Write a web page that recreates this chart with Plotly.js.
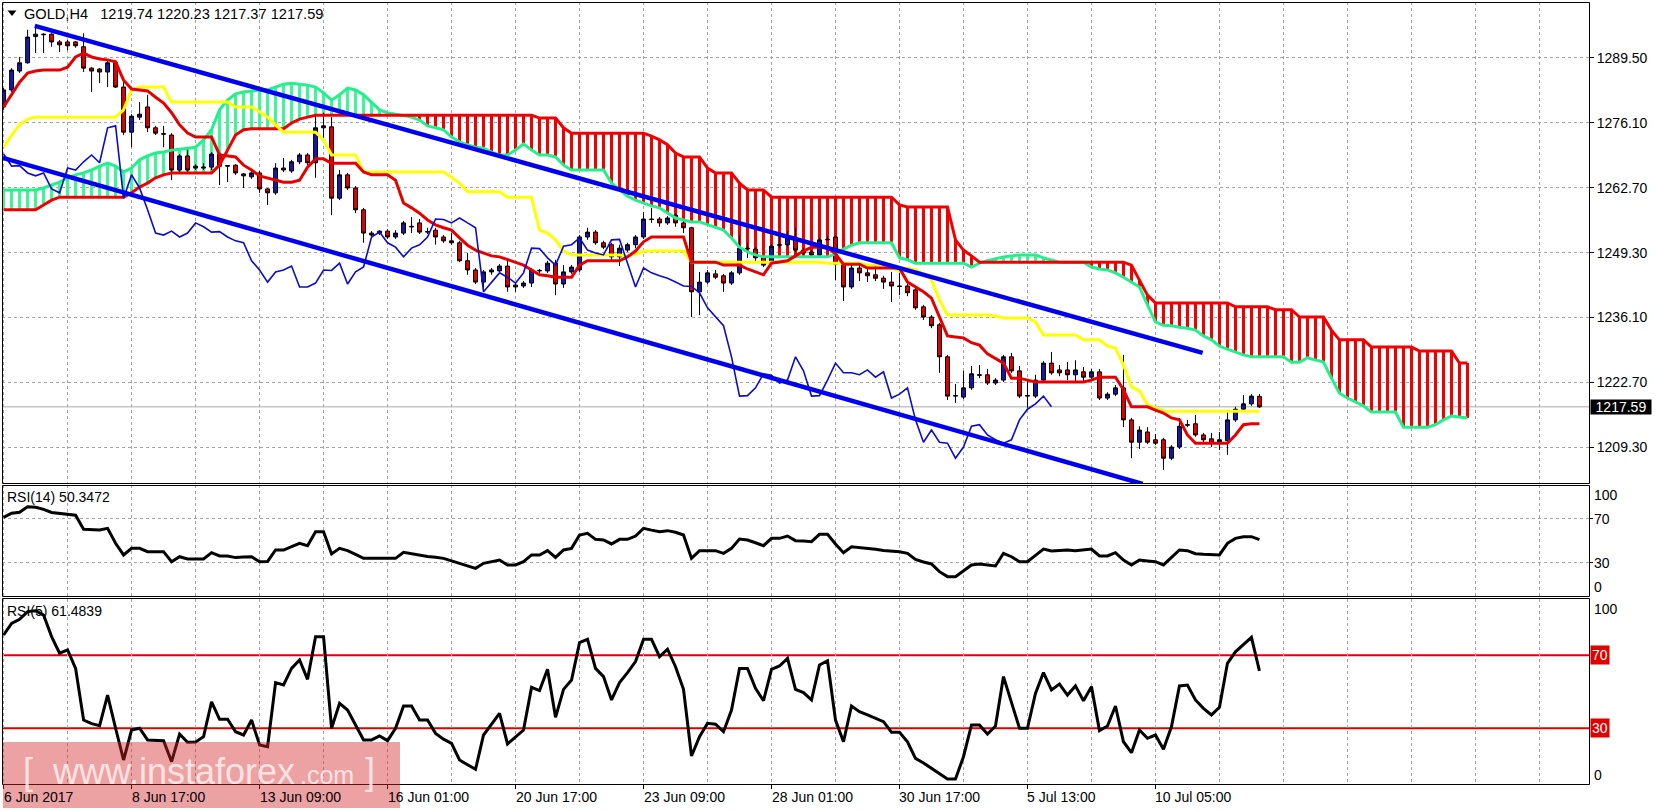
<!DOCTYPE html>
<html><head><meta charset="utf-8">
<script src="https://cdn.plot.ly/plotly-3.0.1.min.js"></script>
<style>html,body{margin:0;padding:0;background:#fff;}#chart{width:1657px;height:811px;}</style>
</head><body><div id="chart"></div>
<script>
// ---------------- DATA ----------------
const symbol = "GOLD,H4";
const open = [1279.4,1282.9,1286.8,1288.5,1293.9,1294.4,1294.4,1292.8,1292.8,1292.8,
1291.8,1287.4,1287.2,1286.6,1288.5,1283.5,1274.2,1277.3,1279.4,1275.1,
1273.9,1273.6,1266.4,1269.3,1267.2,1266.8,1267.0,1269.7,1267.2,1267.4,
1265.6,1265.0,1265.8,1262.5,1261.7,1266.8,1266.2,1268.1,1269.5,1267.9,
1275.1,1275.3,1260.6,1265.4,1262.7,1258.2,1253.4,1253.4,1253.8,1252.6,
1253.4,1254.8,1255.5,1253.6,1254.0,1252.6,1251.8,1251.4,1247.7,1245.8,
1243.3,1245.4,1245.6,1246.6,1242.7,1242.5,1243.1,1245.6,1245.6,1247.2,
1242.9,1245.4,1245.8,1252.6,1253.6,1251.4,1251.0,1248.5,1249.9,1251.0,
1252.6,1256.3,1256.3,1255.5,1257.1,1255.5,1254.5,1241.3,1243.3,1245.0,
1244.6,1243.1,1245.2,1250.3,1250.1,1248.3,1247.2,1250.9,1251.0,1252.4,
1249.9,1249.5,1248.9,1252.0,1252.6,1247.0,1242.3,1246.2,1245.2,1244.8,
1244.1,1243.3,1242.5,1242.5,1241.7,1238.2,1236.1,1234.5,1227.9,1219.8,
1219.6,1221.5,1224.2,1224.2,1222.5,1223.1,1227.9,1225.0,1219.8,1219.8,
1223.1,1226.6,1225.2,1225.2,1224.2,1224.8,1223.7,1224.8,1219.4,1220.2,
1221.5,1214.9,1210.3,1212.4,1210.8,1210.8,1207.0,1209.3,1213.8,1214.1,
1211.8,1211.0,1210.1,1210.6,1214.9,1217.1,1218.2,1219.74];
const high = [1283.3,1287.4,1289.7,1295.3,1295.9,1294.6,1294.6,1293.2,1293.2,1293.0,
1294.6,1287.6,1287.4,1288.9,1288.9,1285.6,1277.9,1280.4,1281.9,1275.5,
1275.5,1274.0,1269.7,1270.9,1267.6,1267.8,1270.1,1270.1,1267.4,1267.6,
1265.8,1266.2,1266.2,1262.7,1267.8,1268.9,1268.5,1269.9,1269.9,1277.7,
1278.2,1277.3,1266.4,1265.8,1263.1,1258.6,1253.8,1254.0,1254.2,1254.0,
1255.9,1256.7,1256.3,1254.5,1254.5,1253.0,1253.4,1251.8,1249.3,1246.2,
1245.8,1246.2,1247.0,1247.9,1243.3,1243.5,1246.2,1246.0,1247.7,1247.9,
1246.8,1246.8,1253.0,1254.5,1254.0,1251.8,1251.4,1251.0,1251.4,1253.0,
1257.7,1258.6,1256.7,1256.9,1257.5,1255.9,1254.7,1245.4,1245.8,1245.8,
1245.0,1245.6,1253.0,1251.4,1250.5,1248.7,1251.2,1253.4,1253.8,1254.5,
1250.3,1249.9,1252.4,1252.8,1253.0,1247.4,1247.0,1247.0,1246.2,1247.0,
1244.6,1245.4,1245.2,1242.9,1242.1,1238.6,1236.5,1234.9,1228.3,1222.3,
1225.0,1226.0,1226.2,1225.4,1223.5,1228.3,1228.7,1226.0,1223.1,1224.2,
1227.0,1228.9,1226.2,1226.8,1227.2,1225.8,1225.4,1225.4,1220.6,1222.1,
1228.3,1215.3,1213.6,1213.4,1212.0,1211.2,1209.7,1215.3,1214.9,1215.9,
1212.2,1212.2,1212.4,1216.9,1217.6,1220.0,1220.2,1220.23];
const low = [1278.8,1282.5,1286.4,1288.3,1290.5,1290.5,1291.8,1290.7,1291.1,1291.6,
1286.6,1282.5,1284.3,1283.5,1283.3,1273.6,1271.1,1276.7,1274.2,1273.6,
1271.1,1264.3,1265.8,1266.0,1266.4,1266.4,1266.4,1263.3,1263.9,1265.4,
1262.7,1264.6,1261.7,1259.2,1261.3,1266.0,1265.8,1267.6,1267.4,1264.8,
1273.0,1257.1,1260.2,1262.3,1257.5,1251.4,1252.6,1253.0,1252.2,1252.2,
1253.0,1253.4,1253.2,1253.2,1251.0,1251.4,1251.0,1247.4,1244.8,1242.9,
1241.3,1244.8,1245.2,1241.3,1241.3,1242.1,1242.3,1245.2,1245.2,1240.6,
1242.1,1245.0,1245.4,1252.0,1251.0,1250.1,1247.9,1246.6,1249.5,1250.3,
1252.2,1255.5,1254.7,1255.1,1254.7,1253.4,1236.1,1236.5,1242.9,1243.9,
1241.3,1242.7,1244.8,1248.3,1247.4,1246.4,1246.8,1250.3,1250.5,1249.5,
1248.9,1248.3,1248.5,1252.0,1243.7,1239.4,1241.9,1243.5,1243.3,1243.5,
1241.9,1239.2,1240.6,1240.4,1237.6,1235.5,1233.8,1224.6,1219.0,1218.4,
1219.2,1221.1,1223.5,1222.1,1222.1,1222.7,1224.6,1219.4,1217.4,1219.4,
1222.7,1224.2,1223.9,1223.1,1222.7,1222.9,1223.3,1219.0,1219.0,1219.8,
1213.4,1207.0,1208.9,1209.9,1209.7,1204.6,1206.6,1208.9,1213.4,1211.4,
1210.3,1209.3,1208.7,1207.7,1214.5,1216.5,1217.8,1217.37];
const close = [1282.9,1287.0,1288.5,1293.8,1294.4,1294.3,1292.8,1292.2,1292.0,1292.0,
1287.4,1286.8,1286.6,1288.5,1283.5,1274.2,1277.5,1277.9,1275.1,1274.0,
1273.8,1266.4,1269.3,1266.4,1266.8,1267.0,1269.7,1267.2,1267.3,1265.8,
1265.2,1265.8,1262.5,1261.7,1266.8,1266.4,1268.1,1269.5,1267.9,1275.1,
1275.5,1260.6,1265.4,1262.7,1258.2,1253.4,1253.0,1253.8,1252.6,1253.4,
1255.5,1254.7,1253.6,1253.7,1252.6,1251.8,1251.4,1247.7,1245.8,1243.3,
1245.4,1245.8,1246.6,1242.3,1242.3,1243.1,1245.8,1245.7,1247.2,1242.9,
1245.4,1246.4,1252.6,1253.6,1251.4,1250.5,1248.5,1250.3,1251.0,1252.6,
1256.3,1256.2,1255.5,1256.5,1255.5,1254.5,1241.3,1243.3,1245.2,1244.3,
1243.1,1245.2,1250.3,1250.2,1248.3,1246.8,1250.7,1251.0,1252.4,1249.9,
1249.3,1248.9,1252.0,1252.1,1247.0,1242.3,1246.2,1245.2,1244.6,1244.1,
1243.3,1242.5,1242.4,1241.1,1238.0,1236.1,1234.3,1227.9,1219.8,1219.9,
1221.5,1224.4,1224.1,1222.5,1223.1,1227.9,1225.0,1219.8,1219.9,1223.1,
1226.6,1224.6,1224.6,1224.2,1225.2,1223.7,1224.8,1219.4,1220.2,1221.5,
1214.9,1210.3,1212.8,1210.3,1210.1,1207.0,1209.3,1213.6,1213.9,1211.8,
1210.8,1210.1,1210.8,1214.9,1217.1,1218.2,1219.8,1217.59];

const tenkan = [1279.4,1281.9,1284.5,1286.4,1286.8,1287.0,1287.0,1287.0,1287.6,1289.7,
1290.5,1289.7,1289.3,1289.1,1288.7,1284.9,1283.1,1282.9,1282.7,1281.4,
1280.2,1278.2,1275.7,1274.0,1273.2,1273.2,1273.2,1269.5,1269.3,1269.1,
1267.4,1266.4,1265.2,1264.8,1264.3,1263.9,1263.9,1264.3,1267.0,1268.7,
1268.7,1267.8,1267.8,1267.8,1267.8,1266.0,1265.4,1265.4,1265.4,1264.3,
1259.6,1258.6,1257.5,1256.1,1255.1,1254.5,1254.0,1252.4,1250.9,1249.9,
1249.3,1248.7,1248.5,1247.9,1247.4,1246.8,1245.8,1244.8,1244.6,1244.3,
1244.3,1244.3,1246.8,1247.7,1247.7,1247.7,1247.7,1247.7,1248.5,1249.7,
1251.6,1252.6,1252.6,1252.6,1252.6,1252.6,1247.4,1247.4,1247.4,1247.4,
1246.8,1246.8,1246.8,1246.0,1245.4,1244.8,1247.2,1247.4,1247.7,1248.7,
1249.7,1250.5,1250.5,1250.5,1249.1,1247.0,1247.0,1247.0,1246.2,1246.2,
1246.2,1246.2,1246.2,1243.3,1242.3,1241.3,1240.0,1235.9,1232.2,1232.0,
1231.8,1230.8,1230.3,1228.5,1227.5,1226.6,1223.5,1223.5,1223.1,1222.7,
1222.7,1222.7,1222.7,1222.7,1222.7,1222.7,1223.1,1223.7,1223.7,1223.7,
1221.1,1217.6,1217.6,1217.6,1216.9,1216.3,1215.3,1214.9,1211.8,1210.1,
1210.1,1210.1,1210.1,1210.1,1211.8,1213.9,1214.1,1214.1];
const kijun = [1271.1,1273.6,1275.7,1276.9,1277.3,1277.3,1277.3,1277.3,1277.3,1277.3,
1277.3,1277.3,1277.3,1277.3,1277.3,1278.8,1282.9,1283.5,1283.5,1283.5,
1283.5,1280.4,1280.4,1280.4,1280.4,1280.4,1280.4,1280.4,1280.4,1279.4,
1279.4,1279.4,1278.4,1277.3,1275.7,1274.2,1274.2,1274.2,1274.2,1274.2,
1272.6,1269.5,1269.5,1269.5,1269.5,1266.0,1266.0,1266.0,1266.0,1266.0,
1266.0,1266.0,1266.0,1266.0,1266.0,1266.0,1264.9,1263.7,1261.9,1261.9,
1261.9,1261.9,1261.9,1260.8,1260.8,1260.8,1260.8,1254.0,1253.4,1252.0,
1249.7,1248.9,1248.9,1248.9,1248.9,1248.9,1248.9,1248.9,1248.7,1249.1,
1249.7,1249.7,1249.7,1249.7,1249.7,1249.7,1247.4,1247.4,1247.4,1247.4,
1247.4,1247.4,1247.4,1247.4,1247.4,1247.4,1247.4,1247.4,1247.4,1247.4,
1247.4,1247.4,1247.4,1247.2,1247.2,1247.2,1247.2,1247.2,1246.8,1246.8,
1246.8,1246.2,1245.6,1246.2,1245.8,1245.0,1243.7,1239.6,1236.5,1236.5,
1236.5,1236.5,1236.5,1236.5,1236.3,1235.9,1235.9,1235.9,1235.9,1235.1,
1232.4,1232.4,1232.4,1232.4,1232.4,1231.4,1231.4,1231.4,1230.1,1229.7,
1226.2,1221.7,1220.9,1218.0,1217.4,1216.7,1216.7,1216.7,1216.7,1216.7,
1216.7,1216.7,1216.7,1216.7,1216.7,1216.7,1216.7,1216.7];
const spanA = [1262.3,1262.3,1262.3,1262.3,1262.3,1262.7,1263.3,1263.9,1264.8,1265.4,
1265.8,1266.4,1267.2,1267.8,1267.2,1266.0,1266.8,1268.5,1269.3,1269.9,
1270.1,1270.5,1270.7,1270.9,1271.1,1272.6,1274.7,1278.8,1280.8,1282.1,
1282.5,1282.7,1282.9,1282.9,1283.5,1284.1,1284.3,1284.1,1283.9,1283.5,
1282.3,1280.8,1281.9,1283.3,1282.9,1281.9,1280.4,1278.8,1278.2,1277.9,
1277.7,1277.3,1276.7,1275.5,1275.1,1274.7,1273.2,1272.2,1271.6,1271.1,
1270.9,1270.1,1269.5,1269.5,1270.5,1271.8,1270.5,1269.5,1269.5,1269.1,
1267.4,1266.4,1266.4,1266.4,1266.4,1266.4,1263.7,1262.3,1261.0,1260.2,
1259.6,1259.0,1258.6,1257.5,1256.5,1256.1,1255.7,1255.7,1255.1,1254.5,
1254.0,1252.4,1250.5,1249.5,1248.9,1248.5,1248.5,1248.5,1248.5,1248.5,
1248.5,1248.5,1248.5,1248.5,1249.1,1250.1,1250.9,1251.4,1251.4,1251.4,
1251.4,1251.4,1248.3,1247.9,1247.2,1247.2,1247.2,1247.2,1247.2,1247.2,
1247.2,1246.4,1247.2,1247.7,1248.1,1248.5,1248.7,1248.9,1248.9,1248.9,
1248.3,1247.9,1247.4,1247.4,1247.4,1247.4,1246.4,1246.0,1245.8,1245.2,
1244.3,1243.3,1242.3,1238.6,1235.1,1234.4,1234.3,1234.0,1233.8,1233.4,
1232.2,1231.4,1230.1,1229.5,1228.9,1228.3,1227.9,1227.9,1227.9,1227.9,
1227.9,1226.8,1226.8,1227.7,1227.2,1226.8,1223.5,1220.4,1219.4,1218.6,
1217.8,1216.5,1216.5,1216.5,1216.5,1213.4,1213.4,1213.4,1213.4,1213.9,
1214.9,1215.7,1215.5,1215.3];
const spanB = [1258.2,1258.2,1258.2,1258.2,1258.2,1259.2,1260.2,1260.8,1260.8,1260.8,
1260.8,1260.8,1260.8,1260.8,1260.8,1260.8,1261.7,1262.9,1263.7,1264.8,
1265.4,1265.8,1265.8,1265.8,1265.8,1265.8,1265.8,1267.4,1270.5,1273.6,
1274.7,1274.9,1274.9,1274.9,1274.9,1274.9,1276.1,1276.9,1277.3,1277.7,
1277.7,1277.7,1277.7,1277.7,1277.7,1277.7,1277.7,1277.7,1277.7,1277.7,
1277.7,1277.7,1277.7,1277.7,1277.7,1277.7,1277.7,1277.7,1277.7,1277.7,
1277.7,1277.7,1277.7,1277.7,1277.7,1277.7,1277.7,1277.1,1277.1,1277.1,
1275.1,1274.0,1274.0,1274.0,1274.0,1274.0,1274.0,1274.0,1274.0,1274.0,
1274.0,1273.4,1272.6,1271.6,1269.9,1269.1,1269.1,1269.1,1266.8,1265.8,
1265.8,1265.8,1263.7,1262.3,1262.3,1262.3,1260.8,1260.8,1260.8,1260.8,
1260.8,1260.8,1260.8,1260.8,1260.8,1260.8,1260.8,1260.8,1260.8,1260.8,
1260.8,1260.8,1259.2,1258.8,1258.8,1258.8,1258.8,1258.8,1258.8,1252.0,
1249.9,1248.7,1247.4,1247.4,1247.4,1247.4,1247.4,1247.4,1247.4,1247.4,
1247.4,1247.4,1247.4,1247.4,1247.4,1247.4,1247.4,1247.4,1247.4,1247.4,
1247.4,1246.8,1243.7,1240.6,1239.0,1239.0,1239.0,1239.0,1239.0,1239.0,
1239.0,1239.0,1239.0,1239.0,1238.2,1238.2,1238.2,1238.2,1238.2,1237.6,
1237.6,1237.6,1236.1,1236.1,1236.1,1236.1,1233.4,1231.4,1231.4,1231.4,
1231.4,1229.9,1229.9,1229.9,1229.9,1229.9,1229.9,1229.1,1229.1,1229.1,
1229.1,1229.1,1226.6,1226.6];
const chikouShift = 26;

const rsi14 = [70.6,74.3,75.2,80.3,79.7,77.9,75,74.3,73,72.5,
59.7,59.5,59.1,60.6,47,36.4,42.4,42.4,39.4,39.4,
39.4,30.3,34.8,32.7,32.7,32.7,38.5,35.5,35.5,34,
34.5,34.8,30.3,30.5,40.9,40.9,44,47,44.8,57.6,
57.6,37.3,42.4,40.3,37,33.3,33.3,33.3,33.3,33.3,
38.8,37.5,35.8,35,34.3,33.3,31,28.8,26.5,24.2,
28.8,30.5,31.8,27.3,27.3,30.3,36.4,36.4,40.3,34.2,
40.9,42.4,54.5,56.1,50.6,50,46.4,50.6,50.6,53.6,
60.6,59,57.6,58.5,57,54.5,33.3,40.3,40.3,40.3,
37.9,42.4,50.9,50,47.5,44.8,51.5,51.5,53.6,49.4,
49,48.5,55.2,55.2,46.4,38.5,43.9,43.3,42.5,41.5,
40.5,40,39.4,37.9,32.4,30,28.2,21.2,16.7,16.7,
22,27.3,28.2,27.5,26.4,37.9,34.8,30.3,30.3,36,
41.8,40,40.5,40.9,40.3,41,41.8,35.5,35.5,38.5,
31.8,27.3,31.8,31,30.3,27.3,34,40.9,40.3,37.5,
37,36.4,36.4,47,51.5,53,53,50.3472];
const rsi5 = [81.1,87.5,89.7,93.9,94.4,92,80.2,71.1,72.9,62.8,
34.5,32.5,31.4,48.2,30,12.6,29,30,23.6,23.5,
23.2,11.7,26.8,22.3,22.5,25.4,44.5,34.9,34.9,28.1,
26.3,34.5,20.8,19.9,55,53.7,62.8,67.4,56.8,80.2,
80.2,30,43.7,40,32,23.6,23.6,25.8,23.2,30,
42.2,42.2,34.5,34.5,27.2,24,21.7,12.6,10,7.5,
26.3,32,38.2,21.4,25,29,52.4,50.6,62.3,36,
51.3,56.4,76.9,78.7,62.8,58.3,45.5,55,60.5,66.5,
78.7,78.7,69.2,73.3,63.7,51.3,14.8,25.4,32.7,32.2,
28.1,40,62.8,62.8,51.9,45.1,62.3,64.1,68.3,51.3,
49.5,45.5,64.7,67,34.5,22.6,42.2,39.1,37.3,35.5,
33.6,27.8,27.8,22.6,13.5,11,8,4.9,2.2,2.2,
14.4,31.8,31.8,26.8,31.2,58.3,44.5,30,30,49.1,
60.5,51,54.2,48.2,53.2,45.1,52.8,28.7,31.2,42.2,
22.6,16.6,29,24.5,26.3,18.5,30.8,53.2,53.7,45.5,
40.9,37.3,41.5,65.6,71.9,75.6,79.8,61.4839];
const rsiLevels = [70, 30];

// channel lines (bar index, price)
const upperChannel = {i: [3.9, 149.9], p: [1296.1, 1228.7]};
const lowerChannel = {i: [-0.1, 142.4], p: [1268.9, 1201.7]};

const priceTicks = [1289.5, 1276.1, 1262.7, 1249.3, 1236.1, 1222.7, 1209.3];
const timeTickIdx = [0, 16, 32, 48, 64, 80, 96, 112, 128, 144];
const timeTickLabels = ["6 Jun 2017","8 Jun 17:00","13 Jun 09:00","16 Jun 01:00","20 Jun 17:00",
  "23 Jun 09:00","28 Jun 01:00","30 Jun 17:00","5 Jul 13:00","10 Jul 05:00"];
const watermark = {site: "www.instaforex", tld: ".com"};

// ---------------- DRAWING ----------------
const W = 1657, H = 811;
const px = v => v / W;
const py = v => 1 - v / H;
const FONT = "Liberation Sans, Arial, sans-serif";
const GRID = '#A4A4A4';

const idx = close.map((_, i) => i);
const cloudIdx = spanA.map((_, i) => i);
const last = close.length - 1;
const hatchBase = spanA.map((a, i) => Math.min(a, spanB[i]));
const hatchLen = spanA.map((a, i) => Math.abs(a - spanB[i]));
const hatchCol = spanA.map((a, i) => a >= spanB[i] ? '#3DF59A' : '#F00000');
const chikouX = idx.slice(chikouShift).map(i => i - chikouShift);
const chikouY = close.slice(chikouShift);

const line = (x, y, color, width, xa, ya) => ({type:'scatter', mode:'lines', x, y,
  line:{color, width, shape:'linear'}, xaxis:xa||'x', yaxis:ya||'y', hoverinfo:'skip', showlegend:false});

const traces = [
  {type:'bar', x:cloudIdx, base:hatchBase, y:hatchLen, width:0.42,
   marker:{color:hatchCol, line:{width:0}}, xaxis:'x', yaxis:'y', hoverinfo:'skip', showlegend:false},
  line(cloudIdx, spanA, '#22F08C', 3),
  line(cloudIdx, spanB, '#F20000', 3),
  {type:'candlestick', x:idx, open, high, low, close, whiskerwidth:0,
   increasing:{line:{color:'#000000', width:1}, fillcolor:'#1818A8'},
   decreasing:{line:{color:'#000000', width:1}, fillcolor:'#E40000'},
   xaxis:'x', yaxis:'y', hoverinfo:'skip', showlegend:false},
  line(idx, kijun, '#FFFF00', 3),
  line(idx, tenkan, '#E80000', 3),
  line(chikouX, chikouY, '#0C0CCC', 1.6),
  line(upperChannel.i, upperChannel.p, '#0000F0', 4.5),
  line(lowerChannel.i, lowerChannel.p, '#0000F0', 4.5),
  line(idx, rsi14, '#000000', 3, 'x2', 'y2'),
  line(idx, rsi5, '#000000', 3, 'x3', 'y3'),
];

const xCommon = {range:[-0.2, 198.2], showgrid:true, gridcolor:GRID, griddash:'3px,3px', gridwidth:1,
  zeroline:false, showline:false, fixedrange:true, showticklabels:false};
const yMain = [1201.89, 1301.03];

const shapes = [
  {type:'line', xref:'paper', yref:'y', x0:px(2), x1:px(1589), y0:close[last], y1:close[last],
   line:{color:'#A8A8A8', width:1}, layer:'between'},
  ...rsiLevels.map(v => ({type:'line', xref:'paper', yref:'y3', x0:px(2), x1:px(1589), y0:v, y1:v,
   line:{color:'#E00000', width:2}, layer:'between'})),
  {type:'rect', xref:'paper', yref:'paper', x0:px(2.5), x1:px(1589.5), y0:py(483.5), y1:py(2.5), line:{color:'#000', width:1}},
  {type:'rect', xref:'paper', yref:'paper', x0:px(2.5), x1:px(1589.5), y0:py(596.5), y1:py(485.5), line:{color:'#000', width:1}},
  {type:'rect', xref:'paper', yref:'paper', x0:px(2.5), x1:px(1589.5), y0:py(784.5), y1:py(598.5), line:{color:'#000', width:1}},
  {type:'path', xref:'paper', yref:'paper',
   path:`M ${px(7.5)} ${py(10.5)} L ${px(16.5)} ${py(10.5)} L ${px(12)} ${py(16)} Z`,
   fillcolor:'#000', line:{width:0}},
  {type:'rect', xref:'paper', yref:'paper', x0:px(3), x1:px(400), y0:py(808), y1:py(742),
   fillcolor:'rgba(210,40,40,0.43)', line:{width:0}, layer:'above'},
];

const ann = (text, x, y, opts) => Object.assign({text, xref:'paper', yref:'paper', x:px(x), y:py(y),
  xanchor:'left', yanchor:'middle', showarrow:false, font:{family:FONT, size:14, color:'#000'}}, opts||{});
const WMC = 'rgba(255,240,240,0.85)';

const annotations = [
  ann(`${symbol}\u00A0\u00A0\u00A0${open[last].toFixed(2)} ${high[last].toFixed(2)} ${low[last].toFixed(2)} ${close[last].toFixed(2)}`, 22, 14,
      {font:{family:FONT, size:14.6, color:'#000'}}),
  ann(`RSI(14) ${rsi14[last].toFixed(4)}`, 5, 497),
  ann(`RSI(5) ${rsi5[last].toFixed(4)}`, 5, 611),
  {text:close[last].toFixed(2), xref:'paper', yref:'y', x:px(1590), y:close[last], xanchor:'left', yanchor:'middle',
   showarrow:false, bgcolor:'#000', width:60, height:14, borderpad:0, align:'center',
   font:{family:FONT, size:14, color:'#fff'}},
  ann('100', 1592, 495), ann('70', 1592, 519), ann('30', 1592, 563), ann('0', 1592, 587),
  ann('100', 1592, 609), ann('0', 1592, 775),
  ...rsiLevels.map(v => ({text:String(v), xref:'paper', yref:'y3', x:px(1590), y:v, xanchor:'left', yanchor:'middle',
   showarrow:false, bgcolor:'#E00000', borderpad:1, font:{family:FONT, size:14, color:'#fff'}})),
  ...timeTickIdx.map((t, k) => ({text:timeTickLabels[k], xref:'x3', yref:'paper', x:t, y:py(797),
   xanchor:'left', yanchor:'middle', xshift:-2, showarrow:false, font:{family:FONT, size:14, color:'#000'}})),
  ann(`[\u00A0 ${watermark.site}`, 22, 771, {borderpad:0, font:{family:FONT, size:36, color:WMC}}),
  ann(watermark.tld, 299, 775, {borderpad:0, font:{family:FONT, size:25, color:WMC}}),
  ann(']', 364, 771, {borderpad:0, font:{family:FONT, size:36, color:WMC}}),
];

const layout = {
  width:W, height:H, margin:{l:0, r:0, t:0, b:0}, paper_bgcolor:'#fff', plot_bgcolor:'#fff',
  showlegend:false, hovermode:false, dragmode:false, font:{family:FONT, size:14, color:'#000'},
  xaxis: Object.assign({}, xCommon, {domain:[px(2), px(1589)], anchor:'y', tickmode:'linear', tick0:0, dtick:8, ticks:'', rangeslider:{visible:false}}),
  xaxis2: Object.assign({}, xCommon, {domain:[px(2), px(1589)], anchor:'y2', tickmode:'linear', tick0:0, dtick:8, ticks:''}),
  xaxis3: Object.assign({}, xCommon, {domain:[px(2), px(1589)], anchor:'y3', tickmode:'array', tickvals:timeTickIdx,
    ticks:'outside', ticklen:4, tickcolor:'#000', tickwidth:1,
    minor:{tickmode:'linear', tick0:0, dtick:8, showgrid:true, gridcolor:GRID, griddash:'3px,3px', ticks:''}}),
  yaxis: {domain:[py(483), py(2)], range:yMain, anchor:'x', side:'right', tickmode:'array', tickvals:priceTicks,
    ticktext:priceTicks.map(v => v.toFixed(2)), ticks:'outside', ticklen:4, tickcolor:'#000',
    tickfont:{family:FONT, size:14, color:'#000'}, showgrid:true, gridcolor:GRID, griddash:'3px,3px',
    zeroline:false, showline:false, fixedrange:true},
  yaxis2: {domain:[py(596), py(485)], range:[-0.91, 100], anchor:'x2', side:'right', tickmode:'array',
    tickvals:[70, 30], ticktext:['', ''], ticks:'outside', ticklen:3, tickcolor:'#000',
    showgrid:true, gridcolor:GRID, griddash:'3px,3px', zeroline:false, showline:false, fixedrange:true},
  yaxis3: {domain:[py(784), py(599)], range:[-0.55, 100.82], anchor:'x3', side:'right', tickmode:'array',
    tickvals:[], showgrid:false, zeroline:false, showline:false, fixedrange:true},
  shapes, annotations,
  bargap:0,
};

Plotly.newPlot('chart', traces, layout, {staticPlot:true, displayModeBar:false});
</script></body></html>
